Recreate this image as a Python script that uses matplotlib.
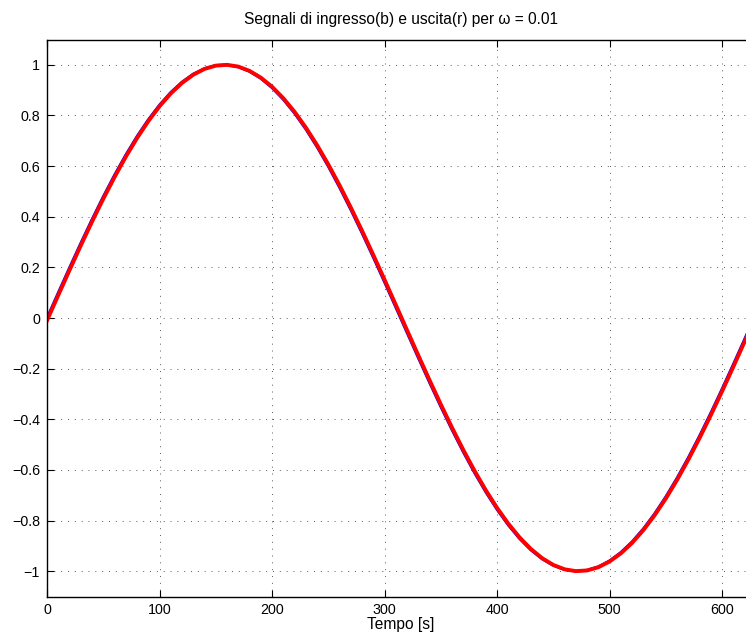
import matplotlib
matplotlib.use("Agg")
import matplotlib.pyplot as plt

plt.rcParams['font.family'] = ['Liberation Sans', 'DejaVu Sans']

# time axis [s]
tempo = [0, 10, 20, 30, 40, 50, 60, 70, 80, 90,
         100, 110, 120, 130, 140, 150, 160, 170, 180, 190,
         200, 210, 220, 230, 240, 250, 260, 270, 280, 290,
         300, 310, 320, 330, 340, 350, 360, 370, 380, 390,
         400, 410, 420, 430, 440, 450, 460, 470, 480, 490,
         500, 510, 520, 530, 540, 550, 560, 570, 580, 590,
         600, 610, 620, 630]

# input signal (blue)
ingresso = [0.0000, 0.0998, 0.1987, 0.2955, 0.3894, 0.4794, 0.5646, 0.6442, 0.7174, 0.7833,
            0.8415, 0.8912, 0.9320, 0.9636, 0.9854, 0.9975, 0.9996, 0.9917, 0.9738, 0.9463,
            0.9093, 0.8632, 0.8085, 0.7457, 0.6755, 0.5985, 0.5155, 0.4274, 0.3350, 0.2392,
            0.1411, 0.0416, -0.0584, -0.1577, -0.2555, -0.3508, -0.4425, -0.5298, -0.6119, -0.6878,
            -0.7568, -0.8183, -0.8716, -0.9162, -0.9516, -0.9775, -0.9937, -0.9999, -0.9962, -0.9825,
            -0.9589, -0.9258, -0.8835, -0.8323, -0.7728, -0.7055, -0.6313, -0.5507, -0.4646, -0.3739,
            -0.2794, -0.1822, -0.0831, 0.0168]

# output signal (red), slightly lagging
uscita = [-0.0100, 0.0899, 0.1889, 0.2859, 0.3802, 0.4706, 0.5563, 0.6366, 0.7104, 0.7771,
          0.8361, 0.8867, 0.9284, 0.9609, 0.9837, 0.9968, 0.9999, 0.9930, 0.9761, 0.9495,
          0.9135, 0.8682, 0.8144, 0.7524, 0.6829, 0.6065, 0.5241, 0.4364, 0.3444, 0.2489,
          0.1510, 0.0516, -0.0484, -0.1478, -0.2458, -0.3414, -0.4335, -0.5213, -0.6040, -0.6805,
          -0.7503, -0.8126, -0.8667, -0.9122, -0.9485, -0.9754, -0.9926, -0.9998, -0.9971, -0.9844,
          -0.9617, -0.9296, -0.8882, -0.8378, -0.7791, -0.7126, -0.6391, -0.5590, -0.4735, -0.3832,
          -0.2890, -0.1920, -0.0931, 0.0068]

xticks = [0, 100, 200, 300, 400, 500, 600]
yticks = [-1, -0.8, -0.6, -0.4, -0.2, 0, 0.2, 0.4, 0.6, 0.8, 1]
ytick_labels = ['\u22121', '\u22120.8', '\u22120.6', '\u22120.4', '\u22120.2', '0',
                '0.2', '0.4', '0.6', '0.8', '1']

fig = plt.figure(figsize=(7.46, 6.37), dpi=100)
ax = fig.add_axes([47 / 746, 40.5 / 637, 707 / 746, 557 / 637])

ax.plot(tempo, ingresso, color='#0000ff', lw=2.0)
ax.plot(tempo, uscita, color='#ff0000', lw=2.8)

ax.set_xlim(0, 628.3)
ax.set_ylim(-1.1, 1.1)
ax.set_xticks(xticks)
ax.set_xticklabels([str(v) for v in xticks])
ax.set_yticks(yticks)
ax.set_yticklabels(ytick_labels)
ax.tick_params(direction='in', length=5, width=0.8, top=True, right=True,
               labelsize=10.3, pad=5, colors='black')
ax.grid(True, color='#444444', linestyle=(0, (1.2, 7)), linewidth=0.6)
for s in ax.spines.values():
    s.set_linewidth(1.0)

ax.set_title('Segnali di ingresso(b) e uscita(r) per \u03c9 = 0.01', fontsize=11.2, pad=11)
ax.set_xlabel('Tempo [s]', fontsize=11.2, labelpad=0)

fig.savefig('out.png', dpi=100)
